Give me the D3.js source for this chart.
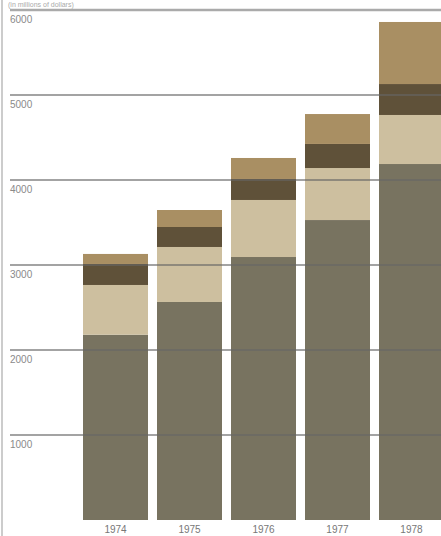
<html>
<head>
<script src="https://cdn.jsdelivr.net/npm/d3@7"></script>
<style>
body{margin:0;background:#fff;overflow:hidden;}
</style>
</head>
<body>
<script>
// data (millions)
var years = ["1974","1975","1976","1977","1978"];
var base   = [2180, 2565, 3094, 3529, 4188];
var light  = [585, 647, 671, 612, 577];
var dark   = [247, 235, 247, 283, 364];
var top_   = [118, 200, 247, 352, 730];
var ticks  = [1000, 2000, 3000, 4000, 5000, 6000];
var colors = ["#787360", "#cdbf9f", "#5f5139", "#a98f63"];

var width = 441, height = 536;

var svg = d3.select("body").append("svg")
  .attr("width", width).attr("height", height);

var x = d3.scaleBand().domain(years).range([83, 444]).paddingInner(0.1216).paddingOuter(0);
var y = d3.scaleLinear().domain([0, 6000]).range([520, 10]);

var rows = years.map(function(yr, i){
  return {year: yr, a: base[i], b: light[i], c: dark[i], d: top_[i]};
});
var stack = d3.stack().keys(["a","b","c","d"])(rows);

// small heading at top
svg.append("text")
  .attr("x", 8).attr("y", 7)
  .attr("font-family", "Liberation Sans, Arial, sans-serif")
  .attr("font-size", 7).attr("fill", "#aaa")
  .text("(in millions of dollars)");

// left border
svg.append("line")
  .attr("x1", 2).attr("x2", 2).attr("y1", 0).attr("y2", height)
  .attr("stroke", "#ccc").attr("stroke-width", 2);

svg.append("g").selectAll("g")
  .data(stack).enter().append("g")
  .attr("fill", function(d, i){ return colors[i]; })
  .selectAll("rect")
  .data(function(d){ return d; }).enter().append("rect")
  .attr("x", function(d){ return x(d.data.year); })
  .attr("width", x.bandwidth())
  .attr("y", function(d){ return y(d[1]); })
  .attr("height", function(d){ return y(d[0]) - y(d[1]); });

// gridlines over the bars
var grid = svg.append("g");
grid.selectAll("line").data(ticks).enter().append("line")
  .attr("x1", 10).attr("x2", width)
  .attr("y1", function(d){ return y(d); })
  .attr("y2", function(d){ return y(d); })
  .attr("stroke", function(d){ return d == 6000 ? "#aaa" : "#666"; })
  .attr("stroke-opacity", function(d){ return d == 6000 ? 1 : 0.8; })
  .attr("stroke-width", function(d){ return d == 6000 ? 2.5 : 1.3; });

grid.selectAll("text").data(ticks).enter().append("text")
  .attr("x", 10)
  .attr("y", function(d){ return y(d) + 13; })
  .attr("font-family", "Liberation Sans, Arial, sans-serif")
  .attr("font-size", 10).attr("fill", "#8a8a8a")
  .text(function(d){ return d; });

// year labels
svg.append("g").selectAll("text").data(years).enter().append("text")
  .attr("x", function(d){ return x(d) + x.bandwidth()/2; })
  .attr("y", 533)
  .attr("text-anchor", "middle")
  .attr("font-family", "Liberation Sans, Arial, sans-serif")
  .attr("font-size", 10).attr("fill", "#777")
  .text(function(d){ return d; });
</script>
</body>
</html>
